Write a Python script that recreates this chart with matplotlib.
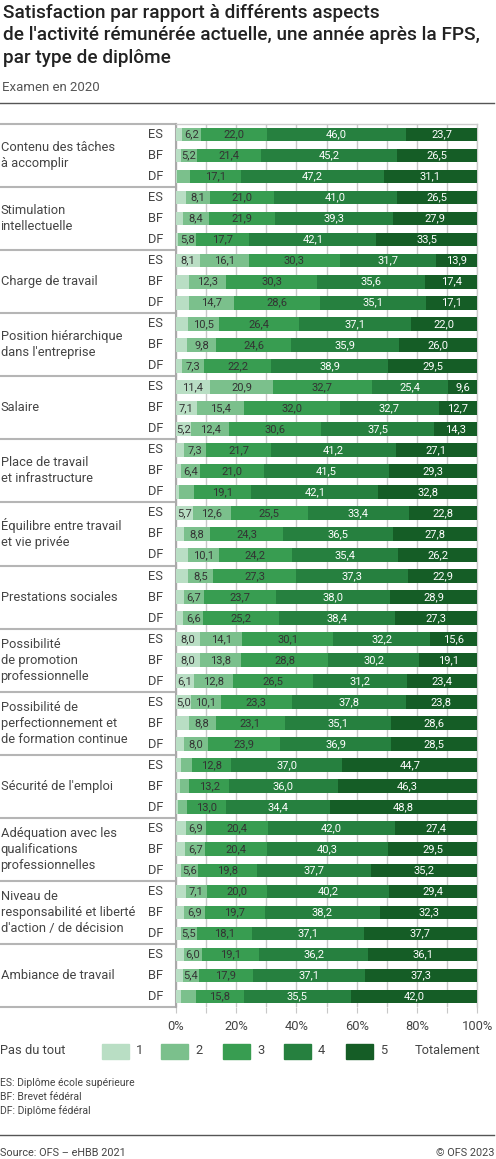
import numpy as np
import matplotlib
matplotlib.use("Agg")
import matplotlib.pyplot as plt
from matplotlib.patches import Rectangle
from matplotlib.lines import Line2D

plt.rcParams['font.family'] = ['Roboto', 'DejaVu Sans']

# data
categories = [
    "Contenu des tâches\nà accomplir",
    "Stimulation\nintellectuelle",
    "Charge de travail",
    "Position hiérarchique\ndans l'entreprise",
    "Salaire",
    "Place de travail\net infrastructure",
    "Équilibre entre travail\net vie privée",
    "Prestations sociales",
    "Possibilité\nde promotion\nprofessionnelle",
    "Possibilité de\nperfectionnement et\nde formation continue",
    "Sécurité de l'emploi",
    "Adéquation avec les\nqualifications\nprofessionnelles",
    "Niveau de\nresponsabilité et liberté\nd'action / de décision",
    "Ambiance de travail",
]
diplomas = ["ES", "BF", "DF"]
levels = ["1", "2", "3", "4", "5"]

lvl1 = [2.1, 1.7, 0.5, 3.4, 2.5, 0.9, 8.1, 4.4, 4.5, 4.0, 3.7, 2.1, 11.4, 7.1, 5.2,
        2.7, 1.8, 1.1, 5.7, 2.6, 4.1, 4.0, 2.7, 2.5, 8.0, 8.0, 6.1, 5.0, 4.4, 2.7,
        1.8, 1.4, 0.6, 3.3, 3.1, 1.7, 3.3, 2.9, 1.6, 2.6, 2.3, 1.8]
lvl2 = [6.2, 5.2, 4.1, 8.1, 8.4, 5.8, 16.1, 12.3, 14.7, 10.5, 9.8, 7.3, 20.9, 15.4, 12.4,
        7.3, 6.4, 4.9, 12.6, 8.8, 10.1, 8.5, 6.7, 6.6, 14.1, 13.8, 12.8, 10.1, 8.8, 8.0,
        3.7, 3.1, 3.2, 6.9, 6.7, 5.6, 7.1, 6.9, 5.5, 6.0, 5.4, 4.9]
lvl3 = [22.0, 21.4, 17.1, 21.0, 21.9, 17.7, 30.3, 30.3, 28.6, 26.4, 24.6, 22.2, 32.7, 32.0, 30.6,
        21.7, 21.0, 19.1, 25.5, 24.3, 24.2, 27.3, 23.7, 25.2, 30.1, 28.8, 26.5, 23.3, 23.1, 23.9,
        12.8, 13.2, 13.0, 20.4, 20.4, 19.8, 20.0, 19.7, 18.1, 19.1, 17.9, 15.8]
lvl4 = [46.0, 45.2, 47.2, 41.0, 39.3, 42.1, 31.7, 35.6, 35.1, 37.1, 35.9, 38.9, 25.4, 32.7, 37.5,
        41.2, 41.5, 42.1, 33.4, 36.5, 35.4, 37.3, 38.0, 38.4, 32.2, 30.2, 31.2, 37.8, 35.1, 36.9,
        37.0, 36.0, 34.4, 42.0, 40.3, 37.7, 40.2, 38.2, 37.1, 36.2, 37.1, 35.5]
lvl5 = [23.7, 26.5, 31.1, 26.5, 27.9, 33.5, 13.9, 17.4, 17.1, 22.0, 26.0, 29.5, 9.6, 12.7, 14.3,
        27.1, 29.3, 32.8, 22.8, 27.8, 26.2, 22.9, 28.9, 27.3, 15.6, 19.1, 23.4, 23.8, 28.6, 28.5,
        44.7, 46.3, 48.8, 27.4, 29.5, 35.2, 29.4, 32.3, 37.7, 36.1, 37.3, 42.0]

colors = ["#b9dec4", "#7bc08c", "#389d51", "#26803f", "#155d26"]
text_colors = ["#333333", "#333333", "#333333", "white", "white"]

W, H = 496, 1159
fig = plt.figure(figsize=(W / 100, H / 100), dpi=100)


def fx(x):
    return x / W


def fy(y):
    return 1 - y / H


ax_l, ax_r, ax_t, ax_b = 175.7, 477.3, 124, 1007
ax = fig.add_axes([fx(ax_l), fy(ax_b), fx(ax_r - ax_l), fy(ax_t) - fy(ax_b)])

n_rows = len(categories) * len(diplomas)
y = np.arange(n_rows) + 0.5
data = [lvl1, lvl2, lvl3, lvl4, lvl5]
left = np.zeros(n_rows)
for k, vals in enumerate(data):
    vals = np.array(vals)
    ax.barh(y, vals, left=left, height=0.65, color=colors[k], zorder=3)
    for yi, l, v in zip(y, left, vals):
        if v >= 5:
            ax.text(l + v / 2, yi, f"{v:.1f}".replace(".", ","), ha="center", va="center",
                    fontsize=8, color=text_colors[k], zorder=4)
    left += vals

ax.set_xlim(0, 100)
ax.set_ylim(n_rows, 0)
ax.set_xticks(np.arange(0, 101, 10))
ax.set_xticklabels([f"{t}%" if t % 20 == 0 else "" for t in range(0, 101, 10)])
ax.tick_params(axis="x", length=4, color="#c8c8c8", labelsize=9.3, labelcolor="#444444", pad=5)
ax.set_yticks([])
ax.grid(axis="x", color="#c8c8c8", lw=1, zorder=0)
ax.spines["bottom"].set_visible(False)
ax.spines["left"].set_color("#aaaaaa")
ax.spines["left"].set_linewidth(1.5)
for s in ["top", "right"]:
    ax.spines[s].set_color("#cccccc")
    ax.spines[s].set_linewidth(1)

tr = ax.get_yaxis_transform()
x0 = -ax_l / (ax_r - ax_l)
for g, cat in enumerate(categories):
    ax.plot([x0, 0], [g * 3, g * 3], transform=tr, color="#b5b5b5", lw=1.5, clip_on=False)
    ax.text(x0 + 0.002, g * 3 + 1.5, cat, transform=tr, ha="left", va="center",
            fontsize=9.3, color="#444444", linespacing=1.3)
    for d, dip in enumerate(diplomas):
        ax.text(-0.042, g * 3 + d + 0.5, dip, transform=tr, ha="right", va="center",
                fontsize=9.3, color="#444444")
ax.plot([x0, 0], [n_rows, n_rows], transform=tr, color="#b5b5b5", lw=1.5, clip_on=False)

# title
title_lines = ["Satisfaction par rapport à différents aspects",
               "de l'activité rémunérée actuelle, une année après la FPS,",
               "par type de diplôme"]
for i, t in enumerate(title_lines):
    fig.text(fx(3), fy(18 + 22.3 * i), t, fontsize=13.7, fontweight="medium",
             color="#222222", va="baseline")
fig.text(fx(2), fy(91), "Examen en 2020", fontsize=9.5, color="#555555", va="baseline")
fig.add_artist(Line2D([0, fx(494)], [fy(102.5), fy(102.5)], color="#555555", lw=1))

# legend
leg_y = 1051
fig.text(fx(0), fy(leg_y), "Pas du tout", fontsize=9.3, color="#444444", va="center")
sw_x = [101.7, 161, 223.3, 284, 346]
for k, xs in enumerate(sw_x):
    fig.add_artist(Rectangle((fx(xs), fy(1059)), fx(27), fy(1043.5) - fy(1059),
                             color=colors[k], transform=fig.transFigure))
    fig.text(fx(xs + 34), fy(leg_y), levels[k], fontsize=9.3, color="#444444", va="center")
fig.text(fx(415), fy(leg_y), "Totalement", fontsize=9.3, color="#444444", va="center")

# notes
notes = ["ES: Diplôme école supérieure", "BF: Brevet fédéral", "DF: Diplôme fédéral"]
for i, note in enumerate(notes):
    fig.text(fx(0), fy(1083 + 14 * i), note, fontsize=7.5, color="#444444", va="center")
fig.add_artist(Line2D([0, fx(494)], [fy(1135), fy(1135)], color="#555555", lw=1))
fig.text(fx(0), fy(1152.5), "Source: OFS – eHBB 2021", fontsize=7.8, color="#444444", va="center")
fig.text(fx(494), fy(1152.5), "© OFS 2023", fontsize=7.8, color="#444444", va="center", ha="right")

fig.savefig("out.png", dpi=100)
